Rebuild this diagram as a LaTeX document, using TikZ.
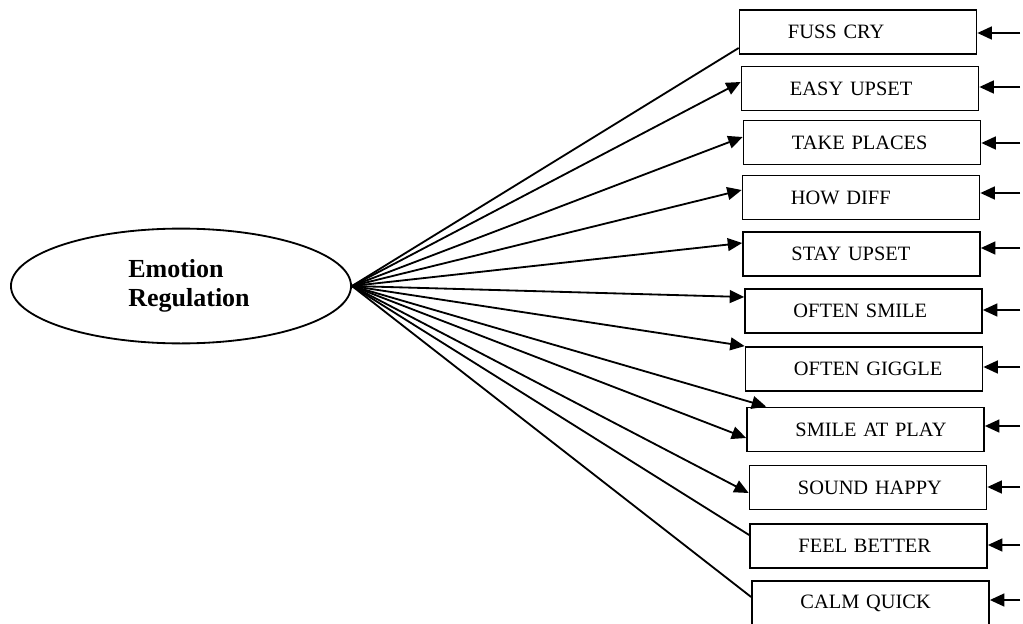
\documentclass[tikz,border=0pt]{standalone}
\usepackage{fontspec}
\setmainfont{Liberation Serif}
\usetikzlibrary{arrows.meta,calc,shapes.geometric}

\begin{document}
\begin{tikzpicture}[
  x=0.025cm,y=0.025cm,
  item/.style={draw,line width=1.3pt,minimum width=5.92cm,minimum height=1.1cm,
    text width=4.5cm,inner xsep=0.71cm,align=left,
    font=\fontsize{14.5}{17}\selectfont,execute at begin node={\hspace*{0.5cm}}},
  latent/.style={draw,ellipse,line width=1.3pt,minimum width=8.5cm,minimum height=2.87cm,
    align=left,font=\fontsize{18.5}{20.6}\selectfont\bfseries},
  load/.style={line width=1.3pt,-{Triangle[length=3.6mm,width=3.2mm]}},
  plain/.style={line width=1.3pt},
  err/.style={line width=1.3pt,-{Triangle[length=3.6mm,width=3.2mm]}}
]
  \useasboundingbox (0,0) rectangle (1023,-623);
  \node[latent] (er) at (181,-286) {\hspace*{0.4cm}Emotion\\\hspace*{0.4cm}Regulation};
  % Indicators
  \node[item] (fuss) at (858,-32) {FUSS CRY};
  \node[item] (easy) at (860,-88.5) {EASY UPSET};
  \node[item] (take) at (862,-142.5) {TAKE PLACES};
  \node[item] (how) at (861,-197.5) {HOW DIFF};
  \node[item] (stay) at (861.5,-254) {STAY UPSET};
  \node[item] (osmile) at (863.5,-311) {OFTEN SMILE};
  \node[item] (giggle) at (864,-369) {OFTEN GIGGLE};
  \node[item] (play) at (865.5,-429.5) {SMILE AT PLAY};
  \node[item] (happy) at (868,-487.5) {SOUND HAPPY};
  \node[item] (better) at (868.5,-546) {FEEL BETTER};
  \node[item] (calm) at (870.5,-603) {CALM QUICK};
  % Loadings
  \draw[plain] (er.east) -- ($(fuss.west)+(0,-16)$);
  \draw[load] (er.east) -- ($(easy.west)+(0,6.5)$);
  \draw[load] (er.east) -- ($(take.west)+(0,5.5)$);
  \draw[load] (er.east) -- ($(how.west)+(0,7.5)$);
  \draw[load] (er.east) -- ($(stay.west)+(0,11)$);
  \draw[load] (er.east) -- ($(osmile.west)+(0,14)$);
  \draw[load] (er.east) -- (giggle.north west);
  \draw[load] (er.east) -- ($(play.north west)+(20,0)$);
  \draw[load] (er.east) -- ($(play.west)+(0,-8.5)$);
  \draw[load] (er.east) -- ($(happy.west)+(0,-5.5)$);
  \draw[plain] (er.east) -- ($(better.west)+(0,11)$);
  \draw[plain] (er.east) -- ($(calm.west)+(0,6)$);
  % Error terms
  \coordinate (efuss) at (1020,-33);
  \coordinate (eeasy) at (1020,-87);
  \coordinate (etake) at (1020,-143);
  \coordinate (ehow) at (1020,-193);
  \coordinate (estay) at (1020,-248);
  \coordinate (eosmile) at (1020,-310);
  \coordinate (egiggle) at (1020,-367);
  \coordinate (eplay) at (1020,-426);
  \coordinate (ehappy) at (1020,-487);
  \coordinate (ebetter) at (1020,-545);
  \coordinate (ecalm) at (1020,-600);
  \draw[err] (efuss) -- (efuss -| fuss.east);
  \draw[err] (eeasy) -- (eeasy -| easy.east);
  \draw[err] (etake) -- (etake -| take.east);
  \draw[err] (ehow) -- (ehow -| how.east);
  \draw[err] (estay) -- (estay -| stay.east);
  \draw[err] (eosmile) -- (eosmile -| osmile.east);
  \draw[err] (egiggle) -- (egiggle -| giggle.east);
  \draw[err] (eplay) -- (eplay -| play.east);
  \draw[err] (ehappy) -- (ehappy -| happy.east);
  \draw[err] (ebetter) -- (ebetter -| better.east);
  \draw[err] (ecalm) -- (ecalm -| calm.east);
\end{tikzpicture}
\end{document}
